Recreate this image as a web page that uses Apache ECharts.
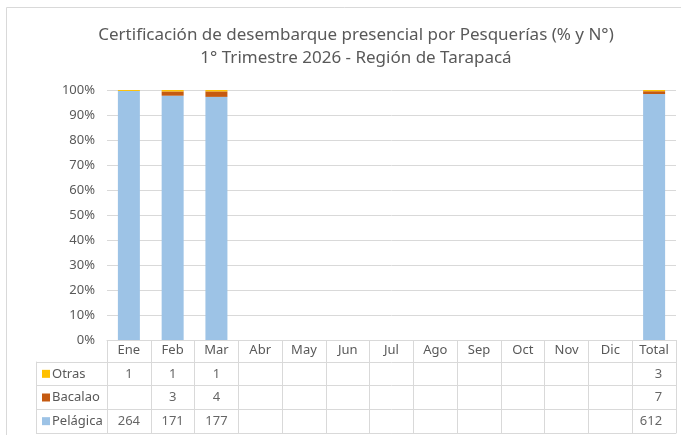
<!DOCTYPE html>
<html>
<head>
<meta charset="utf-8">
<script src="https://cdn.jsdelivr.net/npm/echarts@6/dist/echarts.min.js"></script>
<style>
  html, body { margin: 0; padding: 0; background: #fff; }
  #chart { width: 681px; height: 435px; }
</style>
</head>
<body>
<div id="chart"></div>
<script>
const months = ['Ene', 'Feb', 'Mar', 'Abr', 'May', 'Jun', 'Jul', 'Ago', 'Sep', 'Oct', 'Nov', 'Dic', 'Total'];
const pelagica = [264, 171, 177, null, null, null, null, null, null, null, null, null, 612];
const bacalao = [null, 3, 4, null, null, null, null, null, null, null, null, null, 7];
const otras = [1, 1, 1, null, null, null, null, null, null, null, null, null, 3];
const rowNames = ['Pelágica', 'Bacalao', 'Otras'];
const colors = ['#9DC3E6', '#C55A11', '#FFC000'];

const font = 'Noto Sans';
const textColor = '#595959';
const lineColor = '#D9D9D9';

const rows = [pelagica, bacalao, otras];
const totals = months.map((m, i) => rows.reduce((s, r) => s + (r[i] || 0), 0));
const pct = arr => arr.map((v, i) => (v == null || !totals[i]) ? null : v / totals[i] * 100);

// cells of the data table: [column, row, count]
const cells = [];
rows.forEach((r, ri) => {
  r.forEach((v, ci) => {
    if (v == null) return;
    const item = { value: [ci, ri, v] };
    if (ci === months.length - 1) {
      item.label = { align: 'right', offset: [8, 0] };
    }
    cells.push(item);
  });
});

const chart = echarts.init(document.getElementById('chart'));

chart.setOption({
  animation: false,
  textStyle: { fontFamily: font },
  title: {
    text: 'Certificación de desembarque presencial por Pesquerías (% y N°)\n1° Trimestre 2026 - Región de Tarapacá',
    left: 351,
    top: 19,
    textAlign: 'center',
    textStyle: { fontFamily: font, fontSize: 17, fontWeight: 'normal', color: textColor, lineHeight: 23 }
  },
  graphic: [{
    type: 'rect',
    shape: { x: 6.5, y: 7.5, width: 700, height: 460 },
    style: { fill: 'none', stroke: lineColor, lineWidth: 1 },
    silent: true
  }],
  grid: [
    { left: 107, right: 5, top: 90, height: 250 },
    { left: 107, right: 5, top: 362, height: 71 }
  ],
  xAxis: [
    {
      type: 'category',
      gridIndex: 0,
      data: months,
      axisLine: { show: true, lineStyle: { color: lineColor } },
      axisTick: { show: true, interval: 0, length: 22, lineStyle: { color: lineColor } },
      axisLabel: { color: textColor, fontSize: 13, margin: 4, fontFamily: font },
      splitLine: { show: false }
    },
    {
      type: 'category',
      gridIndex: 1,
      data: months,
      axisLine: { show: true, lineStyle: { color: lineColor } },
      axisTick: { show: false },
      axisLabel: { show: false },
      splitLine: { show: true, interval: 0, lineStyle: { color: lineColor } }
    }
  ],
  yAxis: [
    {
      type: 'value',
      gridIndex: 0,
      min: 0,
      max: 100,
      interval: 10,
      axisLine: { show: false },
      axisTick: { show: false },
      axisLabel: { formatter: '{value}%', color: textColor, fontSize: 13, margin: 12, fontFamily: font },
      splitLine: { lineStyle: { color: lineColor } }
    },
    {
      type: 'category',
      gridIndex: 1,
      data: rowNames,
      axisLine: { show: true, lineStyle: { color: lineColor } },
      axisTick: { show: true, interval: 0, length: 71, lineStyle: { color: lineColor } },
      axisLabel: {
        align: 'left',
        margin: 65,
        formatter: (v, i) => `{s${i}|}{t|${v}}`,
        rich: {
          s0: { width: 8, height: 8, backgroundColor: colors[0] },
          s1: { width: 8, height: 8, backgroundColor: colors[1] },
          s2: { width: 8, height: 8, backgroundColor: colors[2] },
          t: { color: textColor, fontSize: 13, fontFamily: font, padding: [0, 0, 0, 2] }
        }
      },
      splitLine: { show: true, interval: 0, lineStyle: { color: lineColor } }
    },
    {
      type: 'category',
      gridIndex: 1,
      data: rowNames,
      position: 'left',
      offset: 71,
      axisLine: { show: true, lineStyle: { color: lineColor } },
      axisTick: { show: false },
      axisLabel: { show: false },
      splitLine: { show: false }
    }
  ],
  series: [
    {
      name: 'Pelágica', type: 'bar', stack: 'p', xAxisIndex: 0, yAxisIndex: 0,
      barWidth: 22, data: pct(pelagica), itemStyle: { color: colors[0] }
    },
    {
      name: 'Bacalao', type: 'bar', stack: 'p', xAxisIndex: 0, yAxisIndex: 0,
      barWidth: 22, data: pct(bacalao), itemStyle: { color: colors[1] }
    },
    {
      name: 'Otras', type: 'bar', stack: 'p', xAxisIndex: 0, yAxisIndex: 0,
      barWidth: 22, data: pct(otras), itemStyle: { color: colors[2] }
    },
    {
      type: 'scatter', xAxisIndex: 1, yAxisIndex: 1,
      symbolSize: 1,
      itemStyle: { color: 'rgba(0,0,0,0)' },
      label: {
        show: true,
        position: 'inside',
        color: '#404040',
        fontSize: 13,
        fontFamily: font,
        formatter: p => p.value[2]
      },
      data: cells
    }
  ]
});
</script>
</body>
</html>
